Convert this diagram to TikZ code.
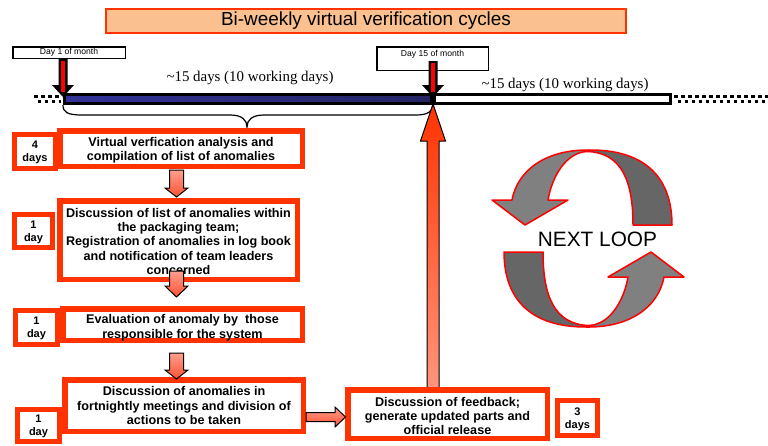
\documentclass[tikz,border=0pt]{standalone}
\usepackage{fontspec}
\setmainfont{Liberation Sans}
\newfontfamily\serifx{Liberation Serif}
\definecolor{boxred}{RGB}{255,51,0}
\definecolor{peach}{RGB}{250,192,143}
\definecolor{navyA}{RGB}{51,51,153}
\definecolor{navyB}{RGB}{36,36,100}
\definecolor{grayL}{RGB}{128,128,128}
\definecolor{grayD}{RGB}{102,102,102}
\definecolor{salmonL}{RGB}{255,160,140}
\definecolor{salmonD}{RGB}{255,80,50}
\definecolor{upTop}{RGB}{255,51,0}
\definecolor{upBot}{RGB}{255,150,125}
\newcommand\lowerln[2]{\raisebox{-#1}[\height][\depth]{#2}}
\newcommand\vBlockArrow[6]{% x, ystart, ybase, ytip, shaft half, head half
  \draw[blockarrow] (#1-#5,#2) -- (#1-#5,#3) -- (#1-#6,#3) -- (#1,#4) -- (#1+#6,#3) -- (#1+#5,#3) -- (#1+#5,#2) -- cycle;}
\newcommand\dayMarker[4]{% x, ytop, ybase, ytip
  \fill[black] (#1-4.5,#2) -- (#1-4.5,#3) -- (#1-11,#3) -- (#1,#4) -- (#1+11,#3) -- (#1+4.5,#3) -- (#1+4.5,#2) -- cycle;
  \fill[red] (#1-2,#2+1.5) rectangle (#1+2,#4-5);}
\newcommand\loopArrowPart{%
  \draw[loopline, fill=grayD] (1,-88.5) .. controls (60,-89) and (84,-58) .. (84,-13.5) -- (45,-13.5) .. controls (45,-55) and (35,-86) .. (-1,-87) -- cycle;
  \draw[loopline, fill=grayL] (1,-88.5) .. controls (-40,-89) and (-70,-70) .. (-76,-38.5) -- (-96,-38.5) -- (-63,-13.5) -- (-20,-38.5) -- (-40,-38.5) .. controls (-36,-62) and (-22,-86) .. (-1,-87) -- cycle;}
\tikzset{
  redbox/.style={draw=boxred, line width=5.5pt, fill=white, inner sep=0pt, align=center,
    font=\fontsize{12.6}{14.2}\selectfont\bfseries},
  daybox/.style={draw=boxred, line width=5pt, fill=white, inner sep=0pt, align=center,
    font=\fontsize{11}{13}\selectfont\bfseries},
  daylabel/.style={draw=black, line width=1.5pt, fill=white, inner sep=0pt,
    font=\fontsize{8.6}{10}\selectfont},
  blockarrow/.style={draw=black, line width=1pt, top color=salmonL, bottom color=salmonD},
  uparrow/.style={draw=black, line width=1pt, top color=upTop, bottom color=upBot},
  barbox/.style={draw=black, line width=3pt, inner sep=0pt, minimum height=9pt},
  checker/.style={line width=3.2pt, dash pattern=on 3.5pt off 3.5pt},
  loopline/.style={draw=red, line width=1.5pt, line join=round},
  spanlabel/.style={font=\serifx\fontsize{14.9}{16}\selectfont, inner sep=0pt}
}
\begin{document}
\begin{tikzpicture}[x=1pt,y=-1pt]
\useasboundingbox (0,0) rectangle (768,445);
% title
\node[draw=boxred, line width=2pt, fill=peach, minimum width=520pt, minimum height=24pt,
  inner sep=0pt, font=\fontsize{18.9}{20}\selectfont] (title) at (366,21) {Bi-weekly virtual verification cycles};
% timeline
\draw[checker] (34,96.5) -- (61,96.5);
\draw[checker, dash phase=3.5pt] (34,101.5) -- (61,101.5);
\draw[checker] (674,96.5) -- (768,96.5);
\draw[checker, dash phase=3.5pt] (674,101.5) -- (768,101.5);
\node[barbox, left color=navyA, right color=navyB, minimum width=367pt] (bar1) at (248,99) {};
\node[barbox, fill=white, minimum width=236pt] (bar2) at (552.5,99) {};
\node[spanlabel] (span1) at (250,78) {\textasciitilde15 days (10 working days)};
\node[spanlabel] (span2) at (565,85) {\textasciitilde15 days (10 working days)};
% brace
\draw[line width=1.2pt] (bar1.south west) .. controls (63,112) and (67,115) .. (82,115) -- (230,115)
  .. controls (242,115) and (247,120) .. (247,127) .. controls (247,120) and (252,115) .. (264,115)
  -- (416,115) .. controls (428,115) and (433,111) .. (bar1.south east);
% big up arrow
\draw[uparrow] (427,390) -- (427,141) -- (420.5,141) -- (433,104) -- (445.5,141) -- (439,141) -- (439,390) -- cycle;
% boxes
\node[daybox, minimum width=40.5pt, minimum height=33.5pt] (dA) at (35,151.5) {\lowerln{1pt}{4}\\\lowerln{1pt}{days}};
\node[redbox, minimum width=242.5pt, minimum height=35.5pt] (b1) at (181,148.5)
  {\lowerln{1.5pt}{Virtual verfication analysis and}\\\lowerln{1.5pt}{compilation of list of anomalies}};
\node[daybox, minimum width=37.5pt, minimum height=32.5pt] (dB) at (33.5,231) {\lowerln{1pt}{1}\\\lowerln{1pt}{day}};
\node[redbox, minimum width=237.5pt, minimum height=78.5pt] (b2) at (178.5,240)
  {\lowerln{1.3pt}{Discussion of list of anomalies within}\\\lowerln{1.3pt}{the packaging team;}\\\lowerln{1.3pt}{Registration of anomalies in log book}\\\lowerln{1.3pt}{and notification of team leaders}\\\lowerln{1.3pt}{concerned}};
\node[daybox, minimum width=41.5pt, minimum height=33.5pt] (dC) at (36.5,327.5) {\lowerln{1pt}{1}\\\lowerln{1pt}{day}};
\node[redbox, minimum width=239.5pt, minimum height=31.5pt] (b3) at (182.5,324.5)
  {\lowerln{3.3pt}{Evaluation of anomaly by\ \ those}\\\lowerln{3.3pt}{responsible for the system}};
\node[daybox, minimum width=41.5pt, minimum height=32pt] (dD) at (38.5,425.5) {\lowerln{1pt}{1}\\\lowerln{1pt}{day}};
\node[redbox, minimum width=238.5pt, minimum height=51.5pt] (b4) at (184,405.5)
  {Discussion of anomalies in\\fortnightly meetings and division of\\actions to be taken};
\node[redbox, minimum width=199.5pt, minimum height=48.5pt] (b5) at (447.5,414)
  {\lowerln{2pt}{Discussion of feedback;}\\\lowerln{2pt}{generate updated parts and}\\\lowerln{2pt}{official release}};
\node[daybox, minimum width=40pt, minimum height=35pt] (dE) at (577.5,418) {\lowerln{1pt}{3}\\\lowerln{1pt}{days}};
% block arrows between boxes
\vBlockArrow{176.5}{170}{188}{197}{7}{11.5}
\vBlockArrow{176.5}{271}{286}{297}{7}{11.5}
\vBlockArrow{176.5}{353}{370}{379}{7}{11.5}
\draw[blockarrow] (b4.east |- 0,412.5) -- (335,412.5) -- (335,407) -- (345.5,417) -- (335,427) -- (335,421.5) -- (b4.east |- 0,421.5) -- cycle;
% day markers
\node[daylabel, minimum width=112.5pt, minimum height=11.5pt] (m1) at (69,52.5) {Day 1 of month};
\node[daylabel, minimum width=111.5pt, minimum height=23.5pt, text depth=10pt] (m15) at (432.5,58.5) {Day 15 of month};
\dayMarker{63}{59}{85}{97}
\dayMarker{433}{61}{85}{97}
% next loop
\begin{scope}[shift={(588,238.5)}]
  \loopArrowPart
\end{scope}
\begin{scope}[shift={(588,238.5)}, rotate=180]
  \loopArrowPart
\end{scope}
\node[font=\fontsize{20.8}{22}\selectfont, inner sep=0pt] (loop) at (597.5,239) {NEXT LOOP};
\end{tikzpicture}
\end{document}
